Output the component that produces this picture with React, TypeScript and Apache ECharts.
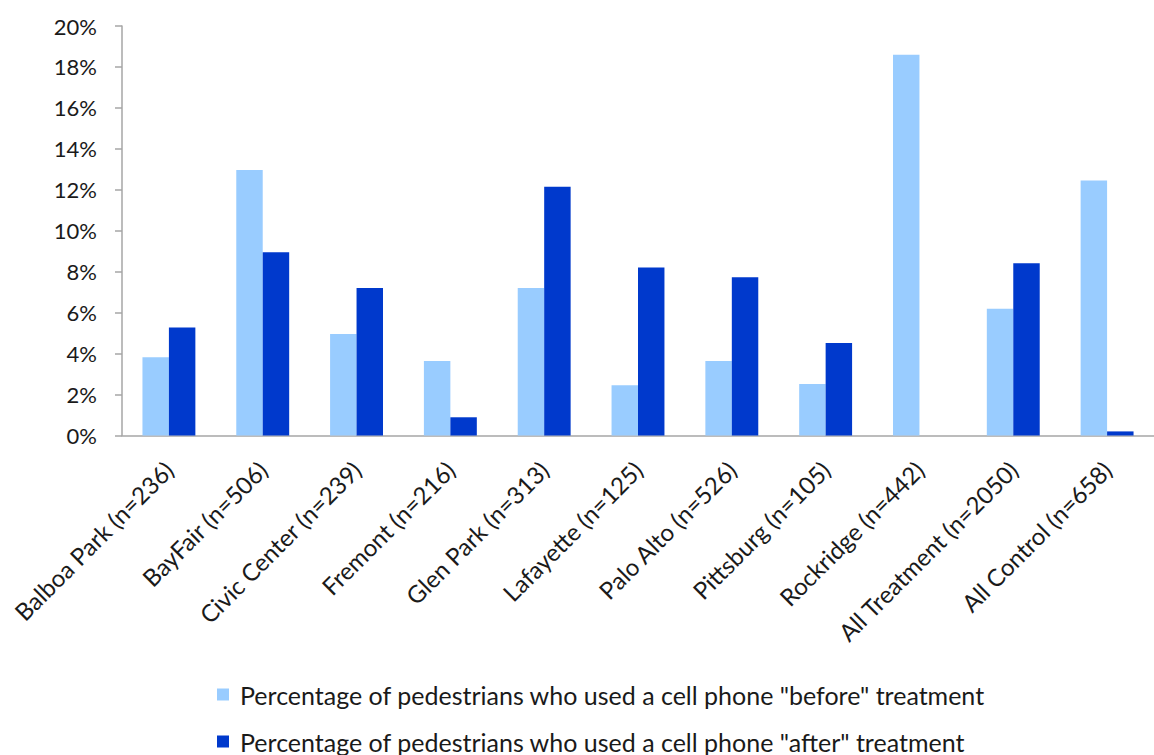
import React, { useEffect, useRef } from "react";
import * as echarts from "echarts";

const categories = [
  "Balboa Park (n=236)",
  "BayFair (n=506)",
  "Civic Center (n=239)",
  "Fremont (n=216)",
  "Glen Park (n=313)",
  "Lafayette (n=125)",
  "Palo Alto (n=526)",
  "Pittsburg (n=105)",
  "Rockridge (n=442)",
  "All Treatment (n=2050)",
  "All Control (n=658)",
];

// Share of pedestrians using a phone, in percent
const beforeValues = [3.82, 12.97, 4.96, 3.64, 7.2, 2.45, 3.64, 2.52, 18.6, 6.19, 12.46];
const afterValues = [5.27, 8.95, 7.2, 0.89, 12.15, 8.21, 7.73, 4.52, 0, 8.41, 0.2];

const seriesNames = [
  'Percentage of pedestrians who used a cell phone "before" treatment',
  'Percentage of pedestrians who used a cell phone "after" treatment',
];

const yTicks = [0, 2, 4, 6, 8, 10, 12, 14, 16, 18, 20];

const FONT = "Lato, 'Open Sans', sans-serif";
const TEXT = "#1a1a1a";
const AXIS = "#a6a6a6";

const legendBase = {
  orient: "horizontal",
  left: 212,
  itemWidth: 12,
  itemHeight: 12,
  icon: "rect",
  textStyle: { fontFamily: FONT, fontSize: 25, color: TEXT, padding: [0, 0, 0, 6] },
};

export default function App() {
  const ref = useRef<HTMLDivElement>(null);

  useEffect(() => {
    if (!ref.current) return;
    const chart = echarts.init(ref.current, undefined, { renderer: "svg" });
    chart.setOption({
      animation: false,
      backgroundColor: "#ffffff",
      textStyle: { fontFamily: FONT },
      grid: { left: 122, top: 26, width: 1043, height: 409.5, containLabel: false },
      legend: [
        { ...legendBase, top: 677, data: [seriesNames[0]] },
        { ...legendBase, top: 724, data: [seriesNames[1]] },
      ],
      xAxis: {
        type: "category",
        data: categories,
        axisLine: { lineStyle: { color: AXIS, width: 1.5 } },
        axisTick: { length: 8, lineStyle: { color: AXIS, width: 1.5 } },
        axisLabel: {
          rotate: 45,
          interval: 0,
          margin: 30,
          fontFamily: FONT,
          fontSize: 24,
          color: TEXT,
        },
      },
      yAxis: {
        type: "value",
        min: yTicks[0],
        max: yTicks[yTicks.length - 1],
        interval: 2,
        splitLine: { show: false },
        axisLine: { show: true, lineStyle: { color: AXIS, width: 1.5 } },
        axisTick: { show: true, length: 7, lineStyle: { color: AXIS, width: 1.5 } },
        axisLabel: {
          fontFamily: FONT,
          fontSize: 22,
          color: TEXT,
          margin: 25,
          formatter: (v: number) => `${v}%`,
        },
      },
      series: [
        {
          name: seriesNames[0],
          type: "bar",
          data: beforeValues,
          barGap: "0%",
          barCategoryGap: "43.6%",
          itemStyle: { color: "#99ccff" },
        },
        {
          name: seriesNames[1],
          type: "bar",
          data: afterValues,
          barGap: "0%",
          barCategoryGap: "43.6%",
          itemStyle: { color: "#0039cc" },
        },
      ],
    });
    return () => chart.dispose();
  }, []);

  return <div ref={ref} style={{ width: 1154, height: 755, position: "absolute", left: 0, top: 0 }} />;
}
